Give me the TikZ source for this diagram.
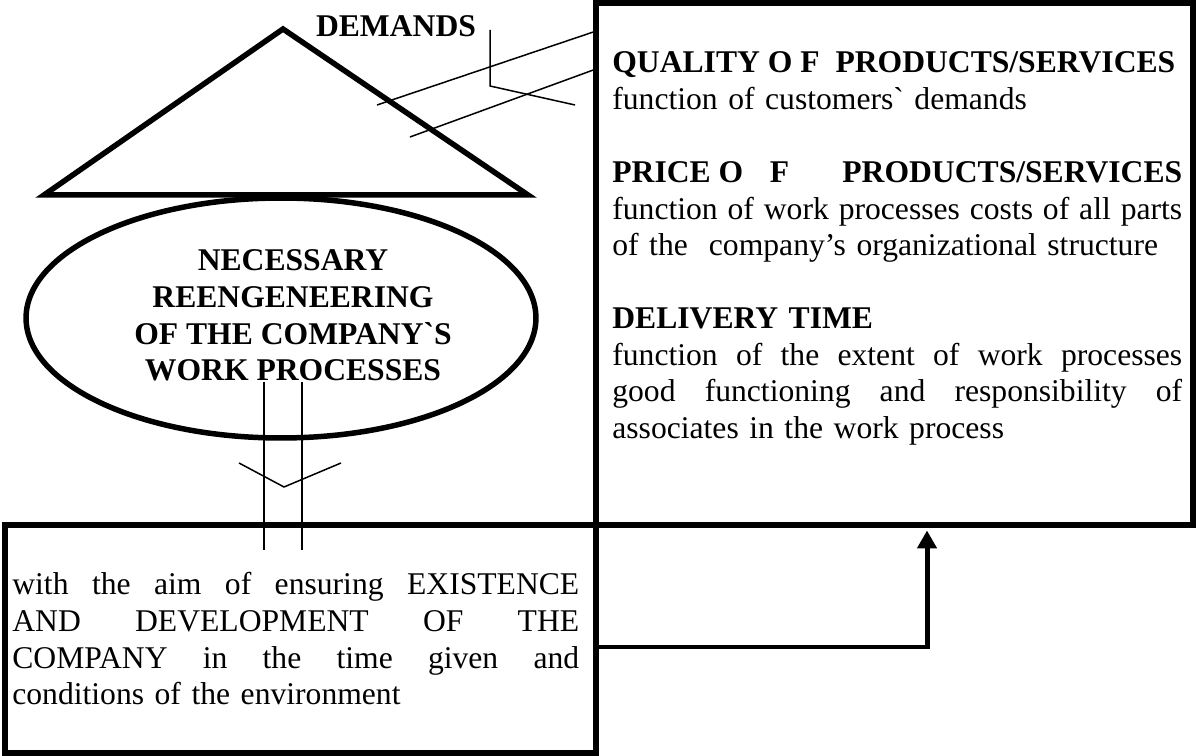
\documentclass[tikz,border=0pt]{standalone}
\usepackage{fontspec}
\setmainfont{Liberation Serif}[Ligatures=TeXOff]
\usetikzlibrary{arrows.meta,shapes.geometric}

% one line spread over the whole text width
\newcommand{\fullline}[1]{\hbox to \linewidth{\spaceskip=0.25em plus 1fil minus 0.1em\relax #1}}

\tikzset{
  heavy/.style={line width=0.11cm},
  hairline/.style={line width=0.03cm},
  frame/.style={draw, heavy, rectangle, inner sep=0pt},
  body/.style={font=\fontsize{18}{20.8}\selectfont, inner sep=0pt},
  head/.style={font=\fontsize{18}{20.8}\selectfont\bfseries, inner sep=0pt},
}

\begin{document}
\begin{tikzpicture}[x=0.02cm, y=-0.02cm]
    \useasboundingbox (0,0) rectangle (1197,756);

    % Factors box and goal box
    \node[frame, minimum width=11.94cm, minimum height=10.44cm] (factors) at (894.5,264) {};
    \node[frame, minimum width=11.82cm, minimum height=4.56cm] (aim) at (300.5,639) {};

    % Demands triangle
    \draw[heavy, line join=miter] (44,195) -- (283,29) -- (528,195) -- cycle;
    \node[head] (demands) at (396,26) {DEMANDS};

    % Reengineering ellipse
    \node[draw, heavy, ellipse, inner sep=0pt, minimum width=10.2cm, minimum height=4.8cm] (redesign) at (281,318) {};
    \node[head, align=center] (redesigntext) at (293,315.5)
        {NECESSARY\\REENGENEERING\\OF THE COMPANY`S\\WORK PROCESSES};

    % broken block arrow: triangle -> factors
    \draw[hairline] (490,30) -- (490,86) -- (575,105);
    \draw[hairline] (377,105) -- (factors.west |- 0,32);
    \draw[hairline] (410,137) -- (factors.west |- 0,70);

    % broken block arrow: ellipse -> goal
    \draw[hairline] (264,382) -- (264,550);
    \draw[hairline] (302,382) -- (302,550);
    \draw[hairline] (239,463) -- (284,487) -- (341,463);

    % Texts
    \node[body, text width=11.4cm, anchor=base west] (factorstext) at (612,73) {%
        \fullline{\textbf{QUALITY O F\ \ PRODUCTS/SERVICES}\hfill}
        function of customers` demands\\[20.8pt]
        \fullline{\textbf{PRICE O\hfill F\hfill\hfill PRODUCTS/SERVICES}}
        \fullline{function of work processes costs of all parts}
        of the\ \ company’s organizational structure\\[20.8pt]
        \textbf{DELIVERY TIME}\\
        \fullline{function of the extent of work processes}
        \fullline{good functioning and responsibility of}
        associates in the work process};
    \node[body, text width=11.34cm, anchor=base west] (aimtext) at (12,595) {%
        \fullline{with the aim of ensuring EXISTENCE}
        \fullline{AND DEVELOPMENT OF THE}
        \fullline{COMPANY in the time given and}
        conditions of the environment};

    % goal -> factors
    \coordinate (turn) at (927,647);
    \draw[line width=0.1cm, line join=miter, -{Triangle[length=0.36cm, width=0.38cm]}]
        (aim.east |- turn) -| ([yshift=-0.055cm]factors.south -| turn);
\end{tikzpicture}
\end{document}
